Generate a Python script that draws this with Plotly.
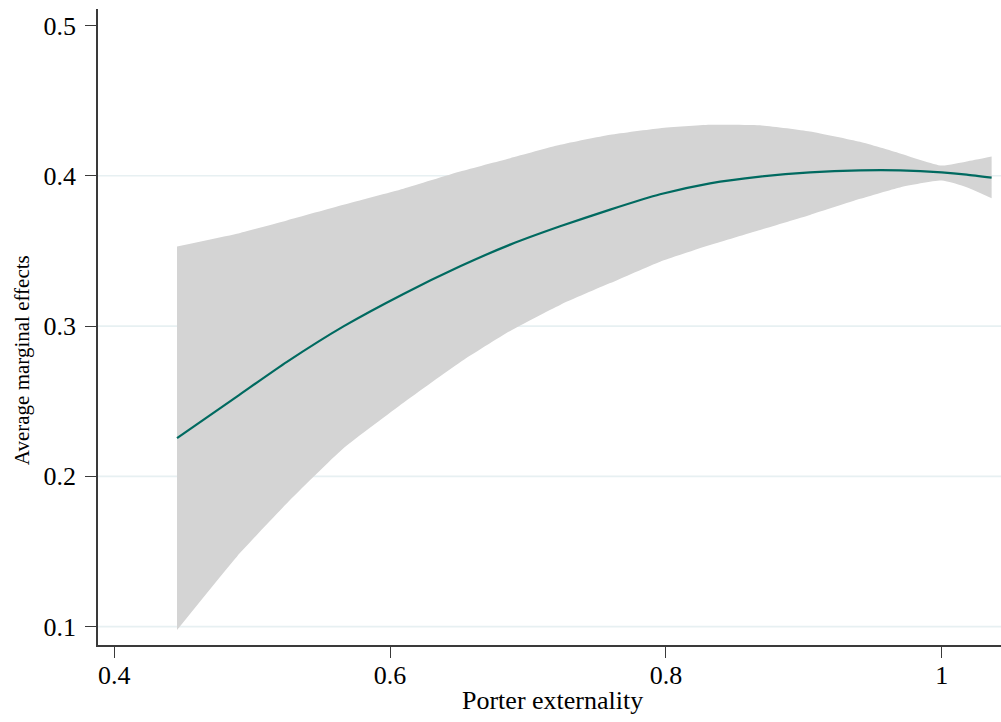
import plotly.graph_objects as go

# Data
porter_x = [0.4455, 0.4889, 0.5252, 0.5662, 0.6097, 0.6508, 0.6871, 0.7233, 0.7596,
            0.7958, 0.8320, 0.8683, 0.9045, 0.9408, 0.9698, 1.0000, 1.0181, 1.0362]
ame = [0.2254, 0.2531, 0.2762, 0.2998, 0.3214, 0.3398, 0.3542, 0.3664, 0.3775,
       0.3877, 0.3950, 0.3995, 0.4023, 0.4036, 0.4036, 0.4023, 0.4008, 0.3988]
ci_upper = [0.3529, 0.3614, 0.3703, 0.3807, 0.3914, 0.4028, 0.4117, 0.4206, 0.4273,
            0.4317, 0.4339, 0.4336, 0.4295, 0.4226, 0.4149, 0.4068, 0.4095, 0.4128]
ci_lower = [0.0978, 0.1466, 0.1821, 0.2187, 0.2490, 0.2760, 0.2968, 0.3141, 0.3286,
            0.3429, 0.3540, 0.3640, 0.3740, 0.3847, 0.3923, 0.3968, 0.3924, 0.3851]

x_ticks = [0.4, 0.6, 0.8, 1.0]
x_tick_labels = ["0.4", "0.6", "0.8", "1"]
y_ticks = [0.1, 0.2, 0.3, 0.4, 0.5]
y_tick_labels = ["0.1", "0.2", "0.3", "0.4", "0.5"]
grid_values = [0.1, 0.2, 0.3, 0.4]

x_title = "Porter externality"
y_title = "Average marginal effects"

FONT = "Liberation Serif"
AXIS_COLOR = "#3a3a3a"
BAND_COLOR = "#d4d4d4"
LINE_COLOR = "#006a60"
GRID_COLOR = "#e7f0f2"

fig = go.Figure()

fig.add_trace(go.Scatter(
    x=porter_x, y=ci_upper, mode="lines",
    line=dict(width=0, color=BAND_COLOR, shape="spline", smoothing=0.5),
    hoverinfo="skip", showlegend=False))
fig.add_trace(go.Scatter(
    x=porter_x, y=ci_lower, mode="lines", fill="tonexty", fillcolor=BAND_COLOR,
    line=dict(width=0, color=BAND_COLOR, shape="spline", smoothing=0.5),
    hoverinfo="skip", showlegend=False))
fig.add_trace(go.Scatter(
    x=porter_x, y=ame, mode="lines",
    line=dict(width=2.2, color=LINE_COLOR, shape="spline", smoothing=0.6),
    showlegend=False))

for g in grid_values:
    fig.add_shape(type="line", xref="paper", yref="y", x0=0, x1=1, y0=g, y1=g,
                  line=dict(color=GRID_COLOR, width=1.6), layer="below")

fig.update_layout(
    width=1001, height=722,
    margin=dict(l=98, r=0, t=9, b=77, pad=0),
    paper_bgcolor="white", plot_bgcolor="white",
    font=dict(family=FONT, size=26, color="black"),
    showlegend=False,
    xaxis=dict(
        range=[0.3882, 1.0430], tickvals=x_ticks, ticktext=x_tick_labels,
        showgrid=False, zeroline=False, showline=True, linecolor=AXIS_COLOR,
        linewidth=1.6, ticks="outside", ticklen=11, tickwidth=1.4,
        tickcolor=AXIS_COLOR, tickfont=dict(family=FONT, size=26, color="black"),
        ticklabelstandoff=-5,
    ),
    yaxis=dict(
        range=[0.0878, 0.511], tickvals=y_ticks, ticktext=y_tick_labels,
        showgrid=False, zeroline=False, showline=True, linecolor=AXIS_COLOR,
        linewidth=1.6, ticks="outside", ticklen=11, tickwidth=1.4,
        tickcolor=AXIS_COLOR, tickfont=dict(family=FONT, size=26, color="black"),
        ticklabelstandoff=4,
    ),
    annotations=[
        dict(text=x_title, xref="paper", yref="paper", x=0.503, y=-0.088,
             xanchor="center", yanchor="middle", showarrow=False,
             font=dict(family=FONT, size=26, color="black")),
        dict(text=y_title, xref="paper", yref="paper", x=-0.0833, y=0.4475,
             xanchor="center", yanchor="middle", showarrow=False, textangle=-90,
             font=dict(family=FONT, size=21, color="black")),
    ],
)

fig.write_html("out.html")
